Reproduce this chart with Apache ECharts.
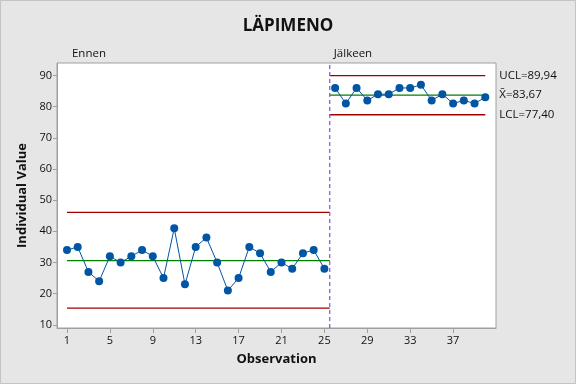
<!DOCTYPE html>
<html><head><meta charset="utf-8">
<script src="https://cdn.jsdelivr.net/npm/echarts@6/dist/echarts.min.js"></script>
<style>html,body{margin:0;padding:0;background:#e6e6e6}#c{width:576px;height:384px}</style>
</head><body><div id="c"></div>
<script>
const valuesBefore = [34,35,27,24,32,30,32,34,32,25,41,23,35,38,30,21,25,35,33,27,30,28,33,34,28];
const valuesAfter = [86,81,86,82,84,84,86,86,87,82,84,81,82,81,83];
const limitsBefore = {ucl: 46.1, cl: 30.64, lcl: 15.4};
const limitsAfter = {ucl: 89.94, cl: 83.67, lcl: 77.40};
const xTicks = [1,5,9,13,17,21,25,29,33,37];
const yTicks = [10,20,30,40,50,60,70,80,90];
const phaseNames = ['Ennen','Jälkeen'];
const splitAt = 25.5;

const nB = valuesBefore.length, nA = valuesAfter.length;
const lastX = nB + nA;
const fmt = v => v.toFixed(2).replace('.', ',');
const F = "'Segoe UI','Open Sans','Noto Sans',sans-serif";

function seg(x0,x1,y,color,name,label){
  const s = {type:'line', name:name, data:[[x0,y],[x1,y]], symbol:'none', silent:true,
    lineStyle:{color:color,width:1.3}, z:2, animation:false};
  if(label){ s.endLabel={show:true, formatter:label, distance:14, color:'#111', fontSize:11.5, fontFamily:F}; }
  return s;
}
const red='#a00000', green='#008000';
const series = [
  seg(1,splitAt,limitsBefore.ucl,red,'uclB'),
  seg(1,splitAt,limitsBefore.cl,green,'clB'),
  seg(1,splitAt,limitsBefore.lcl,red,'lclB'),
  seg(splitAt,lastX,limitsAfter.ucl,red,'uclA','UCL='+fmt(limitsAfter.ucl)),
  seg(splitAt,lastX,limitsAfter.cl,green,'clA','X\u0304='+fmt(limitsAfter.cl)),
  seg(splitAt,lastX,limitsAfter.lcl,red,'lclA','LCL='+fmt(limitsAfter.lcl)),
  {type:'line', data:valuesBefore.map((v,i)=>[i+1,v]), symbol:'circle', symbolSize:8,
   itemStyle:{color:'#0055a5'}, lineStyle:{color:'#0055a5',width:1}, z:5, animation:false},
  {type:'line', data:valuesAfter.map((v,i)=>[nB+i+1,v]), symbol:'circle', symbolSize:8,
   itemStyle:{color:'#0055a5'}, lineStyle:{color:'#0055a5',width:1}, z:5, animation:false},
  {type:'line', data:[[splitAt,9],[splitAt,94]], symbol:'none', silent:true,
   lineStyle:{color:'#7b52d6',width:1.2,type:[4,3]}, z:4, animation:false}
];

const chart = echarts.init(document.getElementById('c'));
chart.setOption({
  backgroundColor:'#e6e6e6',
  animation:false,
  title:{text:'LÄPIMENO', left:'center', top:13, textStyle:{fontFamily:F,fontSize:17,fontWeight:'bold',color:'#111'}},
  grid:{left:57, top:63, right:80, bottom:56, show:true, backgroundColor:'#fff', borderColor:'#a0a0a0', borderWidth:1},
  xAxis:{type:'value', min:0.07, max:41, name:'Observation', nameLocation:'middle', nameGap:25,
    nameTextStyle:{fontFamily:F,fontSize:13,fontWeight:'bold',color:'#111'},
    axisLine:{show:true,lineStyle:{color:'#a0a0a0'}},
    axisTick:{show:true, customValues:xTicks, length:5, lineStyle:{color:'#a0a0a0'}},
    axisLabel:{customValues:xTicks, fontFamily:F, fontSize:11, color:'#111', margin:7},
    splitLine:{show:false}},
  yAxis:{type:'value', min:9, max:94, name:'Individual Value', nameLocation:'middle', nameGap:27,
    nameTextStyle:{fontFamily:F,fontSize:13,fontWeight:'bold',color:'#111'},
    axisLine:{show:true,lineStyle:{color:'#a0a0a0'}},
    axisTick:{show:true, customValues:yTicks, length:4, lineStyle:{color:'#a0a0a0'}},
    axisLabel:{customValues:yTicks, fontFamily:F, fontSize:11, color:'#111', margin:5},
    splitLine:{show:false}},
  series:series
});
const p1 = chart.convertToPixel({gridIndex:0},[1,94]);
const p2 = chart.convertToPixel({gridIndex:0},[splitAt,94]);
chart.setOption({graphic:[
  {type:'rect', shape:{x:0.5,y:0.5,width:575,height:383}, style:{fill:'none', stroke:'#c4c4c4', lineWidth:1}, silent:true},
  {type:'text', left:p1[0]+5, top:p1[1]-15, style:{text:phaseNames[0], font:'11.5px '+F, fill:'#111'}},
  {type:'text', left:p2[0]+4, top:p2[1]-15, style:{text:phaseNames[1], font:'11.5px '+F, fill:'#111'}}
]});
</script></body></html>
